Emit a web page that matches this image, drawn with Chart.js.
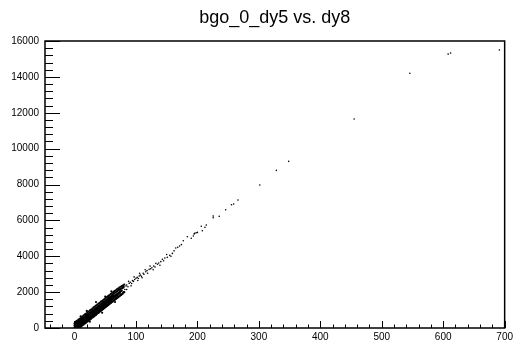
<!DOCTYPE html>
<html>
<head>
<meta charset="utf-8">
<script src="https://cdn.jsdelivr.net/npm/chart.js@4.4.1/dist/chart.umd.min.js"></script>
<style>
html, body { margin: 0; padding: 0; background: #fff; }
</style>
</head>
<body>
<canvas id="scatter" width="516" height="343"></canvas>
<script>
// dati (x = dy8, y = dy5)
var titolo = 'bgo_0_dy5 vs. dy8';
var xTicks = [0, 100, 200, 300, 400, 500, 600, 700];
var yTicks = [0, 2000, 4000, 6000, 8000, 10000, 12000, 14000, 16000];
var xRange = [-48, 700];
var yRange = [0, 16000];

// nuvola densa vicino all'origine (parte centrale)
var clusterPoints = [
    [0,40],[0,150],[0,250],[1,90],[1,210],[1,20],[2,130],[2,60],[2,260],[3,170],[3,300],[3,90],
    [4,150],[4,240],[4,60],[4,330],[5,190],[5,290],[5,110],[6,220],[6,330],[6,150],[6,80],
    [7,260],[7,180],[7,360],[8,250],[8,340],[8,170],[8,400],[9,300],[9,220],[9,390],
    [10,290],[10,370],[10,210],[10,440],[11,320],[11,410],[11,250],[12,360],[12,280],[12,450],[12,200],
    [13,380],[13,470],[13,300],[14,410],[14,330],[14,500],[14,260],[15,430],[15,520],[15,350],[15,290],
    [16,470],[16,390],[16,550],[16,320],[17,490],[17,420],[17,580],[17,360],[18,520],[18,440],[18,610],[18,390],[18,560],
    [19,550],[19,470],[19,640],[19,420],[20,570],[20,510],[20,660],[20,450],[20,600],
    [21,600],[21,530],[21,690],[21,480],[22,620],[22,560],[22,720],[22,500],[22,670],
    [23,650],[23,590],[23,750],[23,540],[24,680],[24,620],[24,770],[24,570],[24,720],
    [25,700],[25,640],[25,800],[25,590],[25,740],[26,730],[26,670],[26,830],[26,620],
    [27,760],[27,700],[27,860],[27,650],[27,800],[28,780],[28,720],[28,880],[28,680],[28,830],
    [29,810],[29,750],[29,910],[29,700],[30,840],[30,770],[30,940],[30,730],[30,880],
    [31,860],[31,800],[31,960],[31,760],[31,910],[32,890],[32,830],[32,990],[32,790],
    [33,920],[33,850],[33,1020],[33,810],[33,960],[34,940],[34,880],[34,1040],[34,840],[34,990],
    [35,970],[35,910],[35,1070],[35,860],[36,1000],[36,930],[36,1100],[36,890],[36,1050],
    [37,1020],[37,960],[37,1120],[37,920],[38,1050],[38,990],[38,1150],[38,950],[38,1100],
    [39,1080],[39,1010],[39,1170],[39,970],[40,1100],[40,1040],[40,1200],[40,1000],[40,1150],
    [41,1130],[41,1070],[41,1230],[41,1020],[42,1160],[42,1090],[42,1250],[42,1050],[42,1200],
    [43,1180],[43,1120],[43,1280],[43,1080],[44,1210],[44,1150],[44,1300],[44,1110],[44,1250],
    [45,1240],[45,1170],[45,1330],[45,1130],[46,1260],[46,1200],[46,1360],[46,1160],[46,1310],
    [47,1290],[47,1230],[47,1380],[47,1190],[48,1320],[48,1250],[48,1410],[48,1210],[48,1360],
    [49,1340],[49,1280],[49,1440],[49,1240],[50,1370],[50,1310],[50,1460],[50,1270],
    [51,1400],[51,1330],[51,1490],[51,1300],[52,1420],[52,1360],[52,1510],[52,1330],
    [53,1450],[53,1390],[53,1540],[53,1350],[54,1480],[54,1410],[54,1570],[54,1380],
    [55,1500],[55,1440],[55,1590],[55,1410],[56,1530],[56,1470],[56,1620],[56,1430],
    [57,1560],[57,1490],[57,1650],[57,1460],[58,1580],[58,1520],[58,1670],[58,1490],
    [59,1610],[59,1550],[59,1700],[60,1640],[60,1570],[60,1720],[61,1660],[61,1600],[61,1750],
    [62,1690],[62,1630],[62,1780],[63,1720],[63,1650],[63,1800],[64,1740],[64,1680],
    [65,1770],[65,1710],[66,1800],[66,1730],[67,1820],[67,1760],[68,1850],[68,1790],
    [69,1880],[69,1810],[70,1900],[70,1840],[71,1930],[72,1960],[72,1900],[73,1980],
    [74,2010],[74,1950],[75,2040],[76,2060],[77,2090]
];

// bordi della nuvola (sopra e sotto la fascia centrale)
var clusterEdge = [
    [2,330],[3,380],[3,10],[5,420],[5,20],[7,480],[7,40],[9,530],[9,60],[11,600],[11,90],
    [13,650],[13,150],[15,700],[15,190],[17,760],[17,250],[19,800],[19,300],[21,870],[21,360],
    [23,920],[23,400],[25,980],[25,460],[27,1030],[27,510],[29,1080],[29,580],[31,1150],[31,620],
    [33,1190],[33,680],[35,1250],[35,730],[37,1300],[37,800],[39,1360],[39,840],[41,1400],[41,900],
    [43,1470],[43,950],[45,1510],[45,1010],[47,1570],[47,1060],[49,1620],[49,1120],[51,1680],[51,1170],
    [53,1730],[53,1230],[55,1790],[55,1280],[57,1840],[57,1340],[59,1900],[59,1390],[61,1950],[61,1450],
    [63,2000],[63,1500],[65,2060],[65,1560],[67,2100],[67,1610],[69,2160],[69,1670],[71,2200],[71,1720],
    [73,2250],[73,1780],[75,2300],[75,1830],[77,2330],[77,1880],[79,2380],[79,1950],[81,2420],[81,2000],
    [4,300],[4,80],[6,360],[6,100],[8,400],[8,120],[10,460],[10,160],[12,520],[12,200],[14,560],[14,250],
    [16,620],[16,290],[18,680],[18,340],[20,730],[20,390],[22,780],[22,440],[24,830],[24,490],
    [26,890],[26,540],[28,940],[28,590],[30,990],[30,650],[32,1050],[32,700],[34,1100],[34,750],
    [36,1150],[36,800],[38,1210],[38,850],[40,1260],[40,910],[42,1310],[42,960],[44,1370],[44,1010],
    [46,1420],[46,1060],[48,1470],[48,1120],[50,1530],[50,1170],[52,1580],[52,1220],[54,1640],[54,1270],
    [56,1690],[56,1330],[58,1740],[58,1380],[60,1800],[60,1430],[62,1850],[62,1480],[64,1900],[64,1540],
    [66,1960],[66,1590],[68,2010],[68,1640],[70,2060],[70,1690],[72,2110],[72,1750],[74,2150],[74,1800],
    [76,2200],[76,1850],[78,2250],[78,1900],[80,2300],[80,2000],
    [10,650],[20,950],[35,1450],[45,850],[50,1750],[60,2050],[25,350],[66,1450]
];

// coda sparsa verso le alte ampiezze
var tailPoints = [
    [78.3,2210],[80,2250],[82,2150],[83.8,2340],[85,2400],[87,2300],[89,2490],[91,2550],[93,2480],
    [94.5,2640],[96,2600],[98,2700],[100,2770],[102,2820],[104,2760],[105.3,2900],[107,2950],[109,2880],
    [111.8,3050],[113,3000],[116,3140],[118,3200],[121.5,3270],[124,3300],[126,3360],[129,3450],
    [132.4,3605],[135,3550],[137,3620],[140.5,3700],[143,3830],[147,3900],[151,3940],[155,4050],
    [159.3,4160],[164.8,4460],[168,4500],[171,4570],[174,4650],[177,4865],[183.7,5090],[190,5000],
    [193.4,5130],[194.5,5240],[195.6,5275],[198,5310],[200,5330],[206.3,5670],[208,5425],[212.3,5610],
    [214.5,5740],[225.7,6245],[225.7,6150],[235.5,6225],[246,6595],[255.5,6875],[259,6910],[266,7135],
    [301.5,7970],[328.5,8790],[348.5,9290],[455,11650],[545.7,14200],[608,15270],[612,15330],[691.5,15500],
    [85,2150],[88,2600],[92,2350],[97,2850],[103,2650],[106,3050],[110,2800],[115,3250],[119,3050],
    [123,3450],[128,3250],[131,3400],[139,3500],[145,3750],[150,4100],[157,4000],[162,4300]
];

function comePunti(lista) {
    return lista.map(function(p) { return { x: p[0], y: p[1] }; });
}

// cornice e tacche interne stile ROOT
var cornice = {
    id: 'cornice',
    afterDatasetsDraw: function(chart) {
        var ctx = chart.ctx;
        var a = chart.chartArea;
        var sx = chart.scales.x;
        var sy = chart.scales.y;
        ctx.save();
        ctx.strokeStyle = '#000';
        ctx.lineWidth = 1;
        ctx.beginPath();
        for (var v = -40; v <= 700; v += 20) {
            var px = Math.round(sx.getPixelForValue(v)) + 0.5;
            var len = (v % 100 === 0) ? 7 : 3.5;
            ctx.moveTo(px, a.bottom);
            ctx.lineTo(px, a.bottom - len);
        }
        for (var w = 0; w <= 16000; w += 400) {
            var py = Math.round(sy.getPixelForValue(w)) + 0.5;
            var lenY = (w % 2000 === 0) ? 15 : 8;
            ctx.moveTo(a.left, py);
            ctx.lineTo(a.left + lenY, py);
        }
        ctx.stroke();
        ctx.lineWidth = 1.5;
        ctx.strokeRect(a.left, a.top, a.right - a.left, a.bottom - a.top);
        ctx.restore();
    }
};

var chart = new Chart(document.getElementById('scatter'), {
    type: 'scatter',
    data: {
        datasets: [{
            label: 'cluster',
            data: comePunti(clusterPoints.concat(clusterEdge)),
            backgroundColor: '#000',
            borderWidth: 0,
            pointRadius: 1.1,
            pointHoverRadius: 0
        }, {
            label: 'coda',
            data: comePunti(tailPoints),
            backgroundColor: '#000',
            borderWidth: 0,
            pointRadius: 0.8,
            pointHoverRadius: 0
        }]
    },
    options: {
        responsive: false,
        animation: false,
        layout: { padding: { left: 0, right: 10, top: 0, bottom: 0 } },
        plugins: {
            legend: { display: false },
            tooltip: { enabled: false },
            title: {
                display: true,
                text: titolo,
                fullSize: false,
                color: '#000',
                font: { family: 'Liberation Sans', size: 18, weight: 'normal' },
                padding: { top: 7, bottom: 12.4 }
            }
        },
        scales: {
            x: {
                type: 'linear',
                min: xRange[0],
                max: xRange[1],
                grid: { display: false, drawTicks: false },
                border: { display: false },
                afterBuildTicks: function(s) {
                    s.ticks = xTicks.map(function(v) { return { value: v }; });
                },
                afterFit: function(s) { s.height = 15; },
                ticks: {
                    color: '#000',
                    padding: 3,
                    maxRotation: 0,
                    font: { family: 'Liberation Sans', size: 10 },
                    callback: function(v) { return String(v); }
                }
            },
            y: {
                type: 'linear',
                min: yRange[0],
                max: yRange[1],
                grid: { display: false, drawTicks: false },
                border: { display: false },
                afterBuildTicks: function(s) {
                    s.ticks = yTicks.map(function(v) { return { value: v }; });
                },
                afterFit: function(s) { s.width = 45; },
                ticks: {
                    color: '#000',
                    padding: 6,
                    font: { family: 'Liberation Sans', size: 10 },
                    callback: function(v) { return String(v); }
                }
            }
        }
    },
    plugins: [cornice]
});
</script>
</body>
</html>
